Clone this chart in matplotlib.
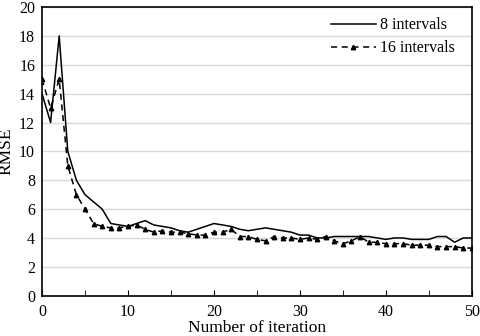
import numpy as np
import matplotlib.pyplot as plt

plt.rcParams['font.family'] = ['Liberation Serif', 'DejaVu Serif']

iterations = list(range(51))
rmse_8 = [14, 12, 18, 10, 8, 7, 6.5, 6, 5, 4.9, 4.8, 5.0, 5.2, 4.9, 4.8, 4.7, 4.5,
          4.4, 4.6, 4.8, 5.0, 4.9, 4.8, 4.6, 4.5, 4.6, 4.7, 4.6, 4.5, 4.4, 4.2, 4.2,
          4.0, 4.0, 4.1, 4.1, 4.1, 4.1, 4.1, 4.0, 3.9, 4.0, 4.0, 3.9, 3.9, 3.9, 4.1,
          4.1, 3.7, 4.0, 4.0]
rmse_16 = [15, 13, 15, 9, 7, 6, 5, 4.8, 4.7, 4.7, 4.8, 4.9, 4.6, 4.4, 4.5, 4.4, 4.4,
           4.3, 4.2, 4.2, 4.4, 4.4, 4.6, 4.1, 4.1, 3.9, 3.8, 4.1, 4.0, 4.0, 3.9, 4.0,
           3.9, 4.1, 3.8, 3.6, 3.8, 4.1, 3.7, 3.7, 3.6, 3.6, 3.6, 3.5, 3.5, 3.5, 3.4,
           3.4, 3.4, 3.3, 3.3]

fig, ax = plt.subplots(figsize=(4.8, 3.36), dpi=100)
fig.subplots_adjust(left=0.0875, right=0.983, top=0.979, bottom=0.12)

ax.plot(iterations, rmse_8, color='black', lw=1.1, label='8 intervals')
ax.plot(iterations, rmse_16, color='black', lw=1.1, ls=(0, (4, 3)),
        marker='^', ms=3.2, label='16 intervals')

ax.set_xlim(0, 50)
ax.set_ylim(0, 20)
ax.set_xticks(range(0, 51, 10))
ax.set_xticks(range(0, 51, 5), minor=True)
ax.set_yticks(range(0, 21, 2))
ax.grid(axis='y', color='#d9d9d9', lw=1)
ax.set_axisbelow(True)
ax.tick_params(axis='x', which='both', direction='in', length=4, labelsize=11.5, pad=6)
ax.tick_params(axis='y', length=0, labelsize=11.5, pad=5)
for s in ax.spines.values():
    s.set_linewidth(1.2)

ax.set_xlabel('Number of iteration', fontsize=12.5, labelpad=0)
ax.set_ylabel('RMSE', fontsize=12.5, labelpad=3)
ax.legend(loc='upper right', frameon=False, fontsize=11.5, handlelength=2.8,
          handletextpad=0.3, labelspacing=0.45, bbox_to_anchor=(0.995, 1.015))

plt.savefig('out.png')
